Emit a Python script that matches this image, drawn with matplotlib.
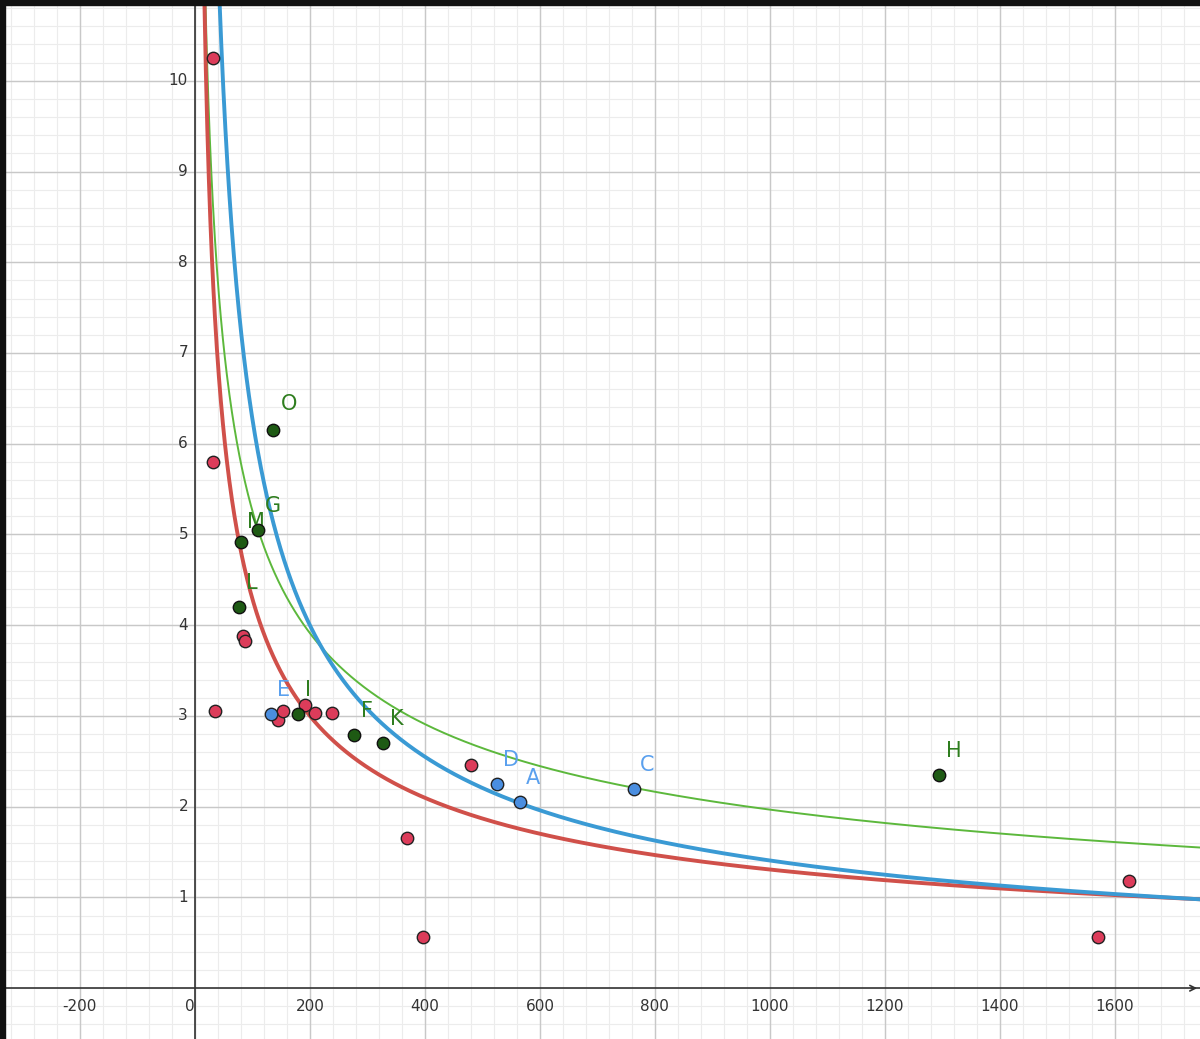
import numpy as np
import matplotlib
matplotlib.use("Agg")
import matplotlib.pyplot as plt

red_x = [31, 31, 35, 83, 87, 144, 153, 191, 209, 238, 480, 369, 397, 1570, 1624]
red_y = [10.25, 5.80, 3.05, 3.88, 3.83, 2.95, 3.05, 3.12, 3.03, 3.03, 2.46, 1.66, 0.56, 0.56, 1.18]
green_names = ["O", "M", "G", "L", "I", "F", "K", "H"]
green_x = [136, 80, 110, 77, 179, 277, 327, 1294]
green_y = [6.15, 4.92, 5.05, 4.20, 3.02, 2.79, 2.70, 2.35]
blue_names = ["E", "D", "A", "C"]
blue_x = [132, 525, 565, 763]
blue_y = [3.02, 2.25, 2.05, 2.19]
# power-law curves y = a * x^(-b)
red_ab = (3.0 * 200**0.516, 0.516)
blue_ab = (2.05 * 560**0.649, 0.649)
green_ab = (2.2 * 770**0.427, 0.427)

fig = plt.figure(figsize=(12, 10.39), dpi=100)
ax = fig.add_axes([0, 0, 1, 1])
xmin, xmax, ymin, ymax = -339, 1748, -0.56, 10.89
ax.set_xlim(xmin, xmax); ax.set_ylim(ymin, ymax)
for v in np.arange(-320, 1760, 40):
    ax.axvline(v, color="#ececec", lw=0.8, zorder=0)
for v in np.arange(-0.4, 11, 0.2):
    ax.axhline(v, color="#ececec", lw=0.8, zorder=0)
for v in np.arange(-200, 1760, 200):
    ax.axvline(v, color="#c8c8c8", lw=1, zorder=0)
for v in range(1, 11):
    ax.axhline(v, color="#c8c8c8", lw=1, zorder=0)
ax.axhline(0, color="#333", lw=1.2)
ax.axvline(0, color="#333", lw=1.2)
ax.annotate("", xy=(xmax, 0), xytext=(xmax - 20, 0),
            arrowprops=dict(arrowstyle="->", color="#333", lw=1.2))
for v in range(-200, 1700, 200):
    ax.text(v, -0.2, "0" if v == 0 else str(v), ha="right" if v == 0 else "center",
            va="center", fontsize=11, color="#333")
for v in range(1, 11):
    ax.text(-12, v, str(v), ha="right", va="center", fontsize=11, color="#333")
ax.set_xticks([]); ax.set_yticks([])
for s in ax.spines.values():
    s.set_visible(False)

xs = np.linspace(5, xmax, 2000)
ax.plot(xs, green_ab[0] * xs**-green_ab[1], color="#5cb83c", lw=1.4)
ax.plot(xs, red_ab[0] * xs**-red_ab[1], color="#d0504a", lw=2.8)
ax.plot(xs, blue_ab[0] * xs**-blue_ab[1], color="#3a9ad4", lw=2.8)

ax.scatter(red_x, red_y, s=80, color="#dc3c5a", edgecolor="#222", lw=1, zorder=5)
ax.scatter(green_x, green_y, s=80, color="#1e5a14", edgecolor="#111", lw=1, zorder=5)
ax.scatter(blue_x, blue_y, s=80, color="#4a8ee0", edgecolor="#222", lw=1, zorder=5)
goff = {"G": (12, 0.2), "M": (10, 0.15), "L": (12, 0.2), "O": (14, 0.22)}
for n, x, y in zip(green_names, green_x, green_y):
    dx, dy = goff.get(n, (12, 0.2))
    ax.text(x + dx, y + dy, n, color="#2e7d1e", fontsize=15)
for n, x, y in zip(blue_names, blue_x, blue_y):
    ax.text(x + 10, y + 0.2, n, color="#5aa0ee", fontsize=15)

fig.patches.append(plt.Rectangle((0, 0), 0.004, 1, transform=fig.transFigure, color="#111"))
fig.patches.append(plt.Rectangle((0, 0.995), 1, 0.005, transform=fig.transFigure, color="#111"))
fig.savefig("out.png", dpi=100)
